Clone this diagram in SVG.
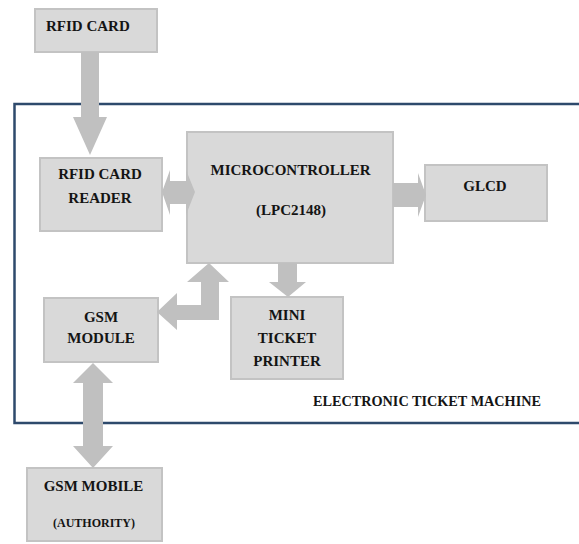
<svg xmlns="http://www.w3.org/2000/svg" width="579" height="544" viewBox="0 0 579 544">
<style>
.box{fill:#d9d9d9;stroke:#c3c3c3;stroke-width:2}
.t{font-family:"Liberation Serif","Times New Roman",serif;font-weight:bold;font-size:15px;fill:#141414;text-anchor:middle}
.arr{fill:#c0c0c0;stroke:none}
.frame{fill:none;stroke:#2e4a6c;stroke-width:2.5}
</style>
<rect width="579" height="544" fill="#ffffff"/>
<g id="frame">
<path class="frame" d="M 590 104 H 14.5 V 423 H 590"/>
<text class="t" x="313" y="406" font-size="14" style="text-anchor:start;font-size:14px" textLength="228" lengthAdjust="spacingAndGlyphs">ELECTRONIC TICKET MACHINE</text>
</g>
<g id="rfid-card">
<rect class="box" x="35" y="9" width="122" height="43"/>
<text class="t" x="46" y="31" style="text-anchor:start">RFID CARD</text>
</g>
<g id="rfid-reader">
<rect class="box" x="40" y="158" width="122" height="73"/>
<text class="t" x="100" y="179">RFID CARD</text>
<text class="t" x="100" y="203">READER</text>
</g>
<g id="mcu">
<rect class="box" x="187" y="132" width="206" height="131"/>
<text class="t" x="290.5" y="175">MICROCONTROLLER</text>
<text class="t" x="291" y="215">(LPC2148)</text>
</g>
<g id="glcd">
<rect class="box" x="425" y="165" width="122" height="56"/>
<text class="t" x="485" y="191">GLCD</text>
</g>
<g id="gsm-module">
<rect class="box" x="44" y="298" width="114" height="64"/>
<text class="t" x="101" y="322">GSM</text>
<text class="t" x="101" y="343">MODULE</text>
</g>
<g id="printer">
<rect class="box" x="231" y="297" width="112" height="82"/>
<text class="t" x="287" y="320">MINI</text>
<text class="t" x="287" y="343">TICKET</text>
<text class="t" x="287" y="366">PRINTER</text>
</g>
<g id="gsm-mobile">
<rect class="box" x="27" y="468" width="135" height="73"/>
<text class="t" x="93.5" y="491">GSM MOBILE</text>
<text class="t" x="94" y="527" style="font-size:12px">(AUTHORITY)</text>
</g>
<g id="connectors">
<path class="arr" d="M 81 52 H 99 V 117 H 107 L 90 155 L 73 117 H 81 Z"/>
<path class="arr" d="M 162 192 L 170 170 V 181 H 186 V 170 L 195 192 L 186 215 V 204 H 170 V 215 Z"/>
<path class="arr" d="M 393 183 H 418 V 173 L 426 195 L 418 217 V 207 H 393 Z"/>
<path class="arr" d="M 278 263 H 297 V 282 H 306 L 288 297 L 269 282 H 278 Z"/>
<path class="arr" d="M 209 263 L 229 282 H 219 V 320 H 177 V 330 L 157 312 L 177 293 V 305 H 201 V 282 H 187 Z"/>
<path class="arr" d="M 93 363 L 113 383 H 103 V 446 H 113 L 93 468 L 73 446 H 83 V 383 H 73 Z"/>
</g>
</svg>
